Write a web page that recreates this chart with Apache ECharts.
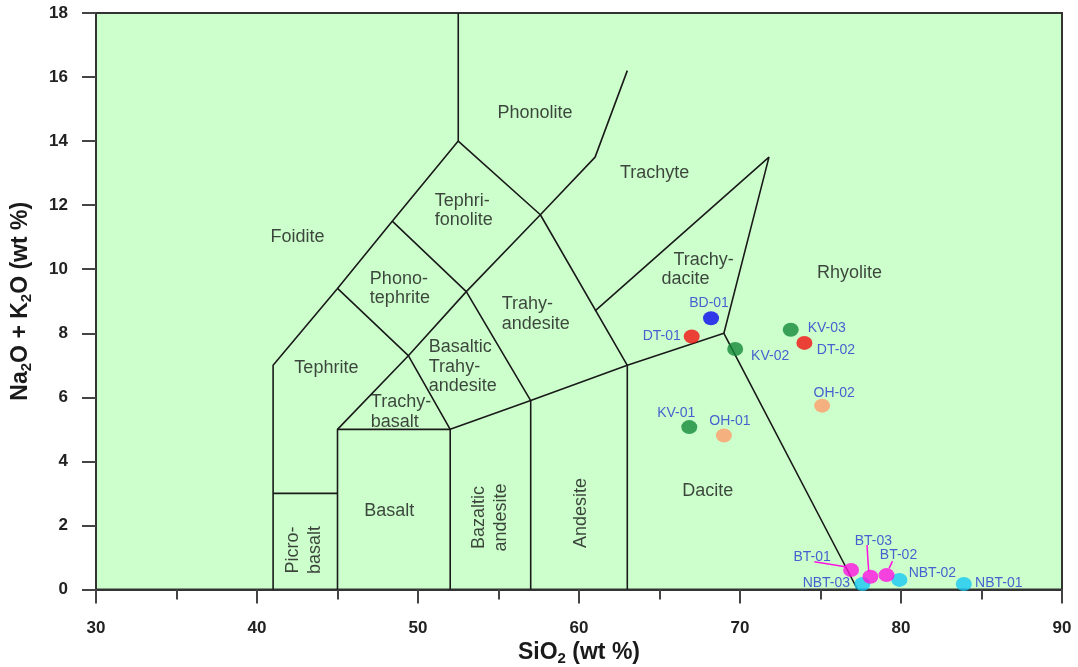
<!DOCTYPE html>
<html><head><meta charset="utf-8">
<script src="https://cdn.jsdelivr.net/npm/echarts@6/dist/echarts.min.js"></script>
<style>html,body{margin:0;padding:0;background:#fff}#c{width:1078px;height:667px}</style>
</head><body><div id="c"></div>
<script>
// ---- data ----
const sampleNames = ['NBT-01','NBT-02','NBT-03','BT-01','BT-02','BT-03','BD-01','DT-01','DT-02','KV-01','KV-02','KV-03','OH-01','OH-02'];
const sio2 =        [83.9, 79.9, 77.6, 76.9, 79.1, 78.1, 68.2, 67.0, 74.0, 66.85, 69.7, 73.15, 69.0, 75.1];
const alkalis =     [0.17, 0.30, 0.17, 0.61, 0.45, 0.40, 8.47, 7.90, 7.70, 5.07, 7.51, 8.11, 4.81, 5.74];
const groups =      ['NBT','NBT','NBT','BT','BT','BT','BD','DT','DT','KV','KV','KV','OH','OH'];
const xTickLabels = [30, 40, 50, 60, 70, 80, 90];
const yTickLabels = [0, 2, 4, 6, 8, 10, 12, 14, 16, 18];
// TAS field boundaries (SiO2, Na2O+K2O)
const boundaries = [
  [[41,0],[41,7],[45,9.4],[48.4,11.5],[52.5,14],[52.5,18]],
  [[41,3],[45,3]],
  [[45,0],[45,5],[52,5],[52,0]],
  [[45,5],[49.4,7.3],[53,9.3],[57.6,11.7],[61,13.5],[63,16.2]],
  [[45,9.4],[49.4,7.3],[52,5]],
  [[48.4,11.5],[53,9.3],[57,5.9],[57,0]],
  [[52.5,14],[57.6,11.7],[63,7],[63,0]],
  [[52,5],[57,5.9],[63,7],[69,8],[77.3,0]],
  [[61,8.7],[71.8,13.5],[69,8]]
];
const fieldNames = ['Phonolite','Trachyte','Foidite','Tephri-\nfonolite','Phono-\ntephrite','Trahy-\nandesite',
  'Basaltic\nTrahy-\nandesite','Tephrite','Trachy-\nbasalt','Rhyolite','Trachy-','dacite','Dacite','Basalt',
  'Picro-\nbasalt','Bazaltic\nandesite','Andesite'];

// ---- styles / layout ----
const FONT = '"Liberation Sans", Arial, sans-serif';
const groupColors = {NBT:'#18C8F4', BT:'#FF12E2', BD:'#0808EE', DT:'#F21010', KV:'#138A38', OH:'#FF9C6C'};
const labelOffsets = [[35,-1],[33,-7],[-36,-1],[-39,-13],[12,-20],[3,-36],[-2,-15],[-30,0],[31.5,7],[-13,-14],[35,7],[36,-2],[6,-14],[12,-13]];
const fieldPlacement = [
  {x:57.27,y:14.88},{x:64.70,y:12.99},{x:42.51,y:11.0},
  {x:51.04,y:11.84,align:'left'},{x:47.01,y:9.39,align:'left'},{x:55.20,y:8.60,align:'left'},
  {x:50.67,y:6.96,align:'left'},{x:44.31,y:6.90},{x:47.07,y:5.54,align:'left'},{x:76.80,y:9.88},
  {x:67.74,y:10.28},{x:66.62,y:9.68},{x:67.99,y:3.07},{x:48.22,y:2.45},
  {x:42.91,y:1.23,rotate:90,lh:21.5},{x:54.49,y:2.25,rotate:90,lh:22},{x:60.15,y:2.39,rotate:90}
];
const leaders = {'BT-01':[[-36.7,-8.3],[-5.7,-3.3]], 'BT-03':[[-3.4,-31.7],[-1.7,-5]], 'BT-02':[[6,-14],[2.6,-6.7]]};

const chart = echarts.init(document.getElementById('c'), null, {renderer:'canvas'});

const lineSeries = boundaries.map(pts => ({
  type:'line', data: pts, symbol:'none', silent:true, z:1, animation:false,
  lineStyle:{color:'#1a1a1a', width:1.6}
}));

const fieldSeries = {
  type:'scatter', symbolSize:0, silent:true, z:1, animation:false,
  data: fieldNames.map((n,i) => {
    const p = fieldPlacement[i];
    return {value:[p.x,p.y], name:n, label:{
      show:true, position:'inside', formatter:n, color:'#161616', fontSize:18, fontFamily:FONT,
      lineHeight:p.lh || 19.3, align:p.align || 'center', verticalAlign:'middle', rotate:p.rotate || 0
    }};
  })
};

const sampleSeries = {
  type:'scatter', z:5, animation:false, symbol:'circle', symbolSize:[16,14],
  data: sampleNames.map((n,i) => ({
    value:[sio2[i], alkalis[i]], name:n,
    itemStyle:{color:groupColors[groups[i]]},
    label:{show:true, position:'inside', offset:labelOffsets[i], formatter:n,
      color:'#2438D0', fontSize:14, fontFamily:FONT}
  }))
};

const axisCommon = {
  type:'value',
  axisLine:{show:true, lineStyle:{color:'#333', width:2}},
  axisTick:{show:true, length:14, lineStyle:{color:'#444', width:2}},
  splitLine:{show:false}
};

chart.setOption({
  animation:false,
  grid:{left:96, right:16, top:13, bottom:77.5, outerBoundsMode:'none', containLabel:false,
        show:true, backgroundColor:'#CCFFCC', borderColor:'#333', borderWidth:2},
  xAxis: Object.assign({}, axisCommon, {
    min:xTickLabels[0], max:xTickLabels[xTickLabels.length-1], interval:10,
    minorTick:{show:true, splitNumber:2, length:10, lineStyle:{color:'#444', width:2}},
    axisLabel:{margin:30, fontSize:17, fontWeight:'bold', color:'#222', fontFamily:FONT},
    name:'{b|SiO}{s|2}{b| (wt %)}', nameLocation:'middle', nameGap:50,
    nameTextStyle:{rich:{
      b:{fontSize:23, fontWeight:'bold', color:'#1a1a1a', fontFamily:FONT},
      s:{fontSize:15, fontWeight:'bold', color:'#1a1a1a', fontFamily:FONT, padding:[12,0,0,0], verticalAlign:'bottom'}
    }}
  }),
  yAxis: Object.assign({}, axisCommon, {
    min:yTickLabels[0], max:yTickLabels[yTickLabels.length-1], interval:2,
    axisLabel:{margin:28, fontSize:17, fontWeight:'bold', color:'#222', fontFamily:FONT},
    name:'{b|Na}{s|2}{b|O + K}{s|2}{b|O (wt %)}', nameLocation:'middle', nameGap:62, nameRotate:90,
    nameTextStyle:{rich:{
      b:{fontSize:23, fontWeight:'bold', color:'#1a1a1a', fontFamily:FONT},
      s:{fontSize:15, fontWeight:'bold', color:'#1a1a1a', fontFamily:FONT, padding:[12,0,0,0], verticalAlign:'bottom'}
    }}
  }),
  series: lineSeries.concat([fieldSeries, sampleSeries])
});

// leader lines for crowded labels
const graphics = [];
sampleNames.forEach((n,i) => {
  if (!leaders[n]) return;
  const c = chart.convertToPixel({gridIndex:0}, [sio2[i], alkalis[i]]);
  const [a,b] = leaders[n];
  graphics.push({type:'line', z:3, silent:true,
    shape:{x1:c[0]+a[0], y1:c[1]+a[1], x2:c[0]+b[0], y2:c[1]+b[1]},
    style:{stroke:groupColors[groups[i]], lineWidth:1.5}});
});
chart.setOption({graphic:graphics});
</script>
</body></html>
